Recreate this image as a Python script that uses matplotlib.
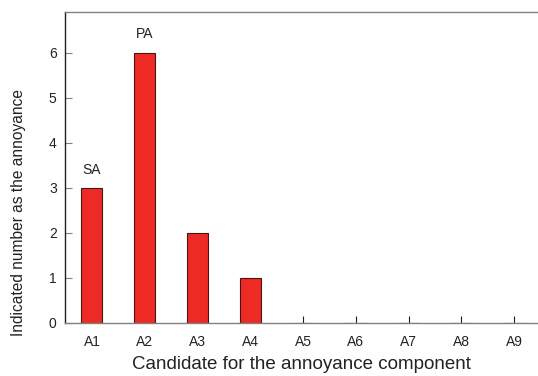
import matplotlib
matplotlib.use("Agg")
import matplotlib.pyplot as plt

plt.rcParams['font.family'] = ['Liberation Sans', 'DejaVu Sans']

categories = ["A1", "A2", "A3", "A4", "A5", "A6", "A7", "A8", "A9"]
values = [3, 6, 2, 1, 0, 0, 0, 0, 0]
annotations = {"A1": "SA", "A2": "PA"}

fig = plt.figure(figsize=(5.38, 3.76), dpi=100)
ax = fig.add_axes([65/538, 1 - 323/376, (538 - 65)/538, (323 - 12)/376])

x = list(range(1, len(categories) + 1))
ax.bar(x, values, width=0.40, color="#ee2a24", edgecolor="#4a1414", linewidth=0.8, zorder=2)

for xi, cat, v in zip(x, categories, values):
    if cat in annotations:
        ax.text(xi, v + 0.25, annotations[cat], ha="center", va="bottom", fontsize=10, color="#222222")

ax.set_xlim(0.49, 9.45)
ax.set_ylim(0, 6.9)
ax.set_xticks(x)
ax.set_xticklabels(categories)
ax.set_yticks(range(0, 7))

for side in ["top", "bottom"]:
    ax.spines[side].set_color("#808080")
    ax.spines[side].set_linewidth(1.0)
ax.spines["left"].set_color("#202020")
ax.spines["left"].set_linewidth(1.0)
ax.spines["right"].set_visible(False)

ax.tick_params(axis="x", direction="in", length=5, color="#202020", labelsize=10, pad=9, labelcolor="#222222")
ax.tick_params(axis="y", direction="in", length=5, color="#808080", labelsize=10, pad=6, labelcolor="#222222")

ax.set_xlabel("Candidate for the annoyance component", fontsize=13.5, labelpad=5, color="#222222")
ax.set_ylabel("Indicated number as the annoyance", fontsize=11.2, color="#222222")
ax.yaxis.set_label_coords(-0.082, 0.355)

fig.savefig("out.png", dpi=100)
